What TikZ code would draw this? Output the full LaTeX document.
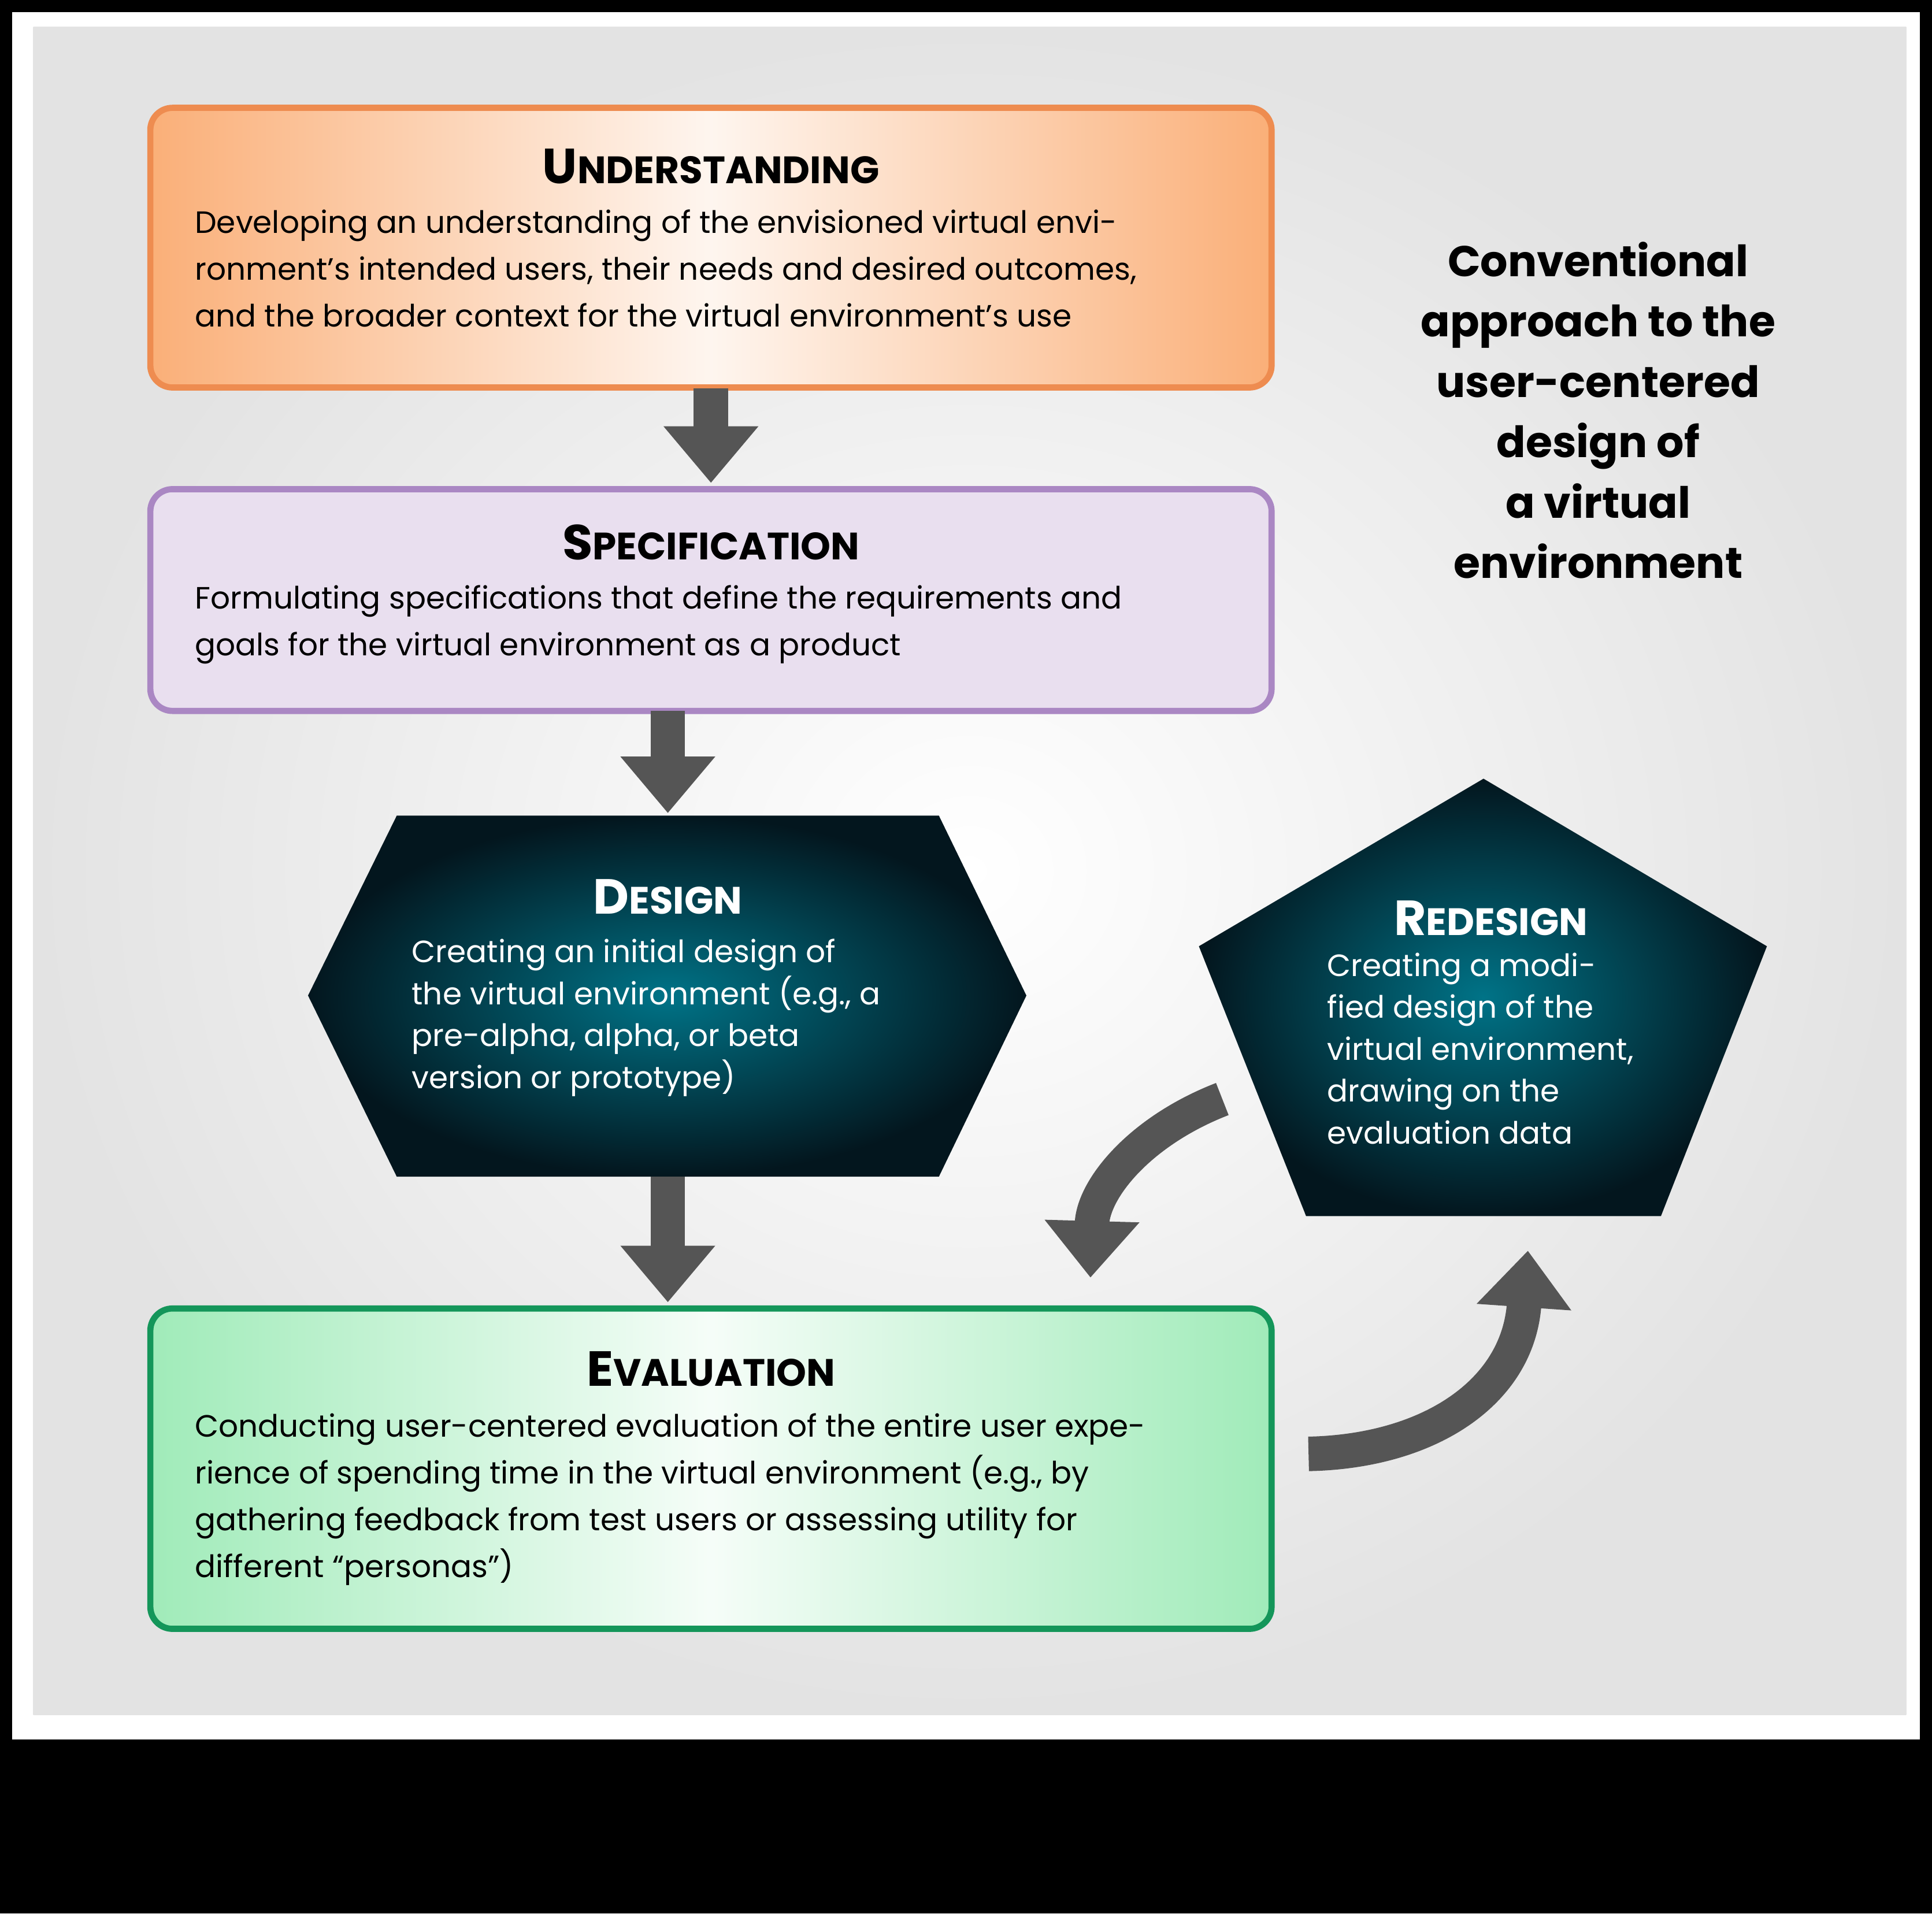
\documentclass[tikz,border=0pt]{standalone}
\usepackage{fontspec}
\setmainfont{Poppins}
\usetikzlibrary{arrows.meta,shadings}
\definecolor{orL}{RGB}{250,175,120}
\definecolor{orB}{RGB}{238,140,80}
\definecolor{puL}{RGB}{226,212,234}
\definecolor{puB}{RGB}{170,135,195}
\definecolor{grL}{RGB}{160,235,185}
\definecolor{grB}{RGB}{20,150,90}
\definecolor{tealI}{RGB}{0,115,135}
\definecolor{tealO}{RGB}{3,22,30}
\definecolor{arr}{RGB}{85,85,85}
\newcommand{\ttl}[2]{{\fontsize{40}{40}\selectfont\bfseries #1}{\fontsize{31}{31}\selectfont\bfseries #2}}
\tikzset{
 box/.style={draw=#1, line width=5pt, rounded corners=18pt, minimum width=910pt, inner sep=0pt},
 body/.style={anchor=north west, align=left, inner sep=0pt, font=\fontsize{25}{38}\selectfont},
 wbody/.style={body, text=white, font=\fontsize{25}{34}\selectfont},
 blk/.style={draw=arr, line width=28pt, -{Triangle[width=74pt,length=46pt]}},
}
\begin{document}
\begin{tikzpicture}[x=1pt,y=-1pt]
\fill[black] (0,0) rectangle (1568,1553);
\fill[white] (10,10) rectangle (1558,1412);
\shade[inner color=white, outer color=gray!22] (27,22) rectangle (1547,1392);
% boxes
\node[box=orB, minimum height=227pt, left color=orL, right color=orL, middle color=white!88!orL] (u) at (577,201) {};
\node[box=puB, minimum height=180pt, fill=puL!75!white] (s) at (577,487) {};
\node[box=grB, minimum height=260pt, left color=grL, right color=grL, middle color=white!90!grL] (e) at (577,1192) {};
% hexagon
\shade[inner color=tealI, outer color=tealO] (322,662) -- (762,662) -- (833,808) -- (762,955) -- (322,955) -- (250,808) -- cycle;
\coordinate (dT) at (542,662); \coordinate (dB) at (542,955);
% pentagon
\shade[inner color=tealI, outer color=tealO] (1204,632) -- (1434,768) -- (1348,987) -- (1060,987) -- (973,768) -- cycle;
% arrows
\draw[blk] (577,315) -- (577,392);
\draw[blk] (542,577) -- (542,660);
\draw[blk] (dB) -- (542,1057);
\coordinate (r1) at (992,892); \coordinate (r2) at (885,1037);
\draw[blk] (r1) .. controls (925,918) and (887,965) .. (r2);
\coordinate (e1) at (1062,1180); \coordinate (e2) at (1240,1015);
\draw[blk] (e1) .. controls (1160,1178) and (1232,1130) .. (e2);
% texts
\node (ut) at (577,135) {\ttl{U}{NDERSTANDING}};
\node[body] (ub) at (158,170) {Developing an understanding of the envisioned virtual envi-\\ronment’s intended users, their needs and desired outcomes,\\and the broader context for the virtual environment’s use};
\node (st) at (577,440) {\ttl{S}{PECIFICATION}};
\node[body] (sb) at (158,475) {Formulating specifications that define the requirements and\\goals for the virtual environment as a product};
\node[text=white] (dt) at (542,728) {\ttl{D}{ESIGN}};
\node[wbody] (db) at (334,762) {Creating an initial design of\\the virtual environment (e.g., a\\pre-alpha, alpha, or beta\\version or prototype)};
\node[text=white] (rt) at (1210,745) {\ttl{R}{EDESIGN}};
\node[wbody] (rb) at (1077,773) {Creating a modi-\\fied design of the\\virtual environment,\\drawing on the\\evaluation data};
\node (et) at (577,1111) {\ttl{E}{VALUATION}};
\node[body] (eb) at (158,1147) {Conducting user-centered evaluation of the entire user expe-\\rience of spending time in the virtual environment (e.g., by\\gathering feedback from test users or assessing utility for\\different “personas”)};
\node[align=center, font=\fontsize{35}{49}\selectfont\bfseries] (ti) at (1297,333) {Conventional\\approach to the\\user-centered\\design of\\a virtual\\environment};
\end{tikzpicture}
\end{document}
